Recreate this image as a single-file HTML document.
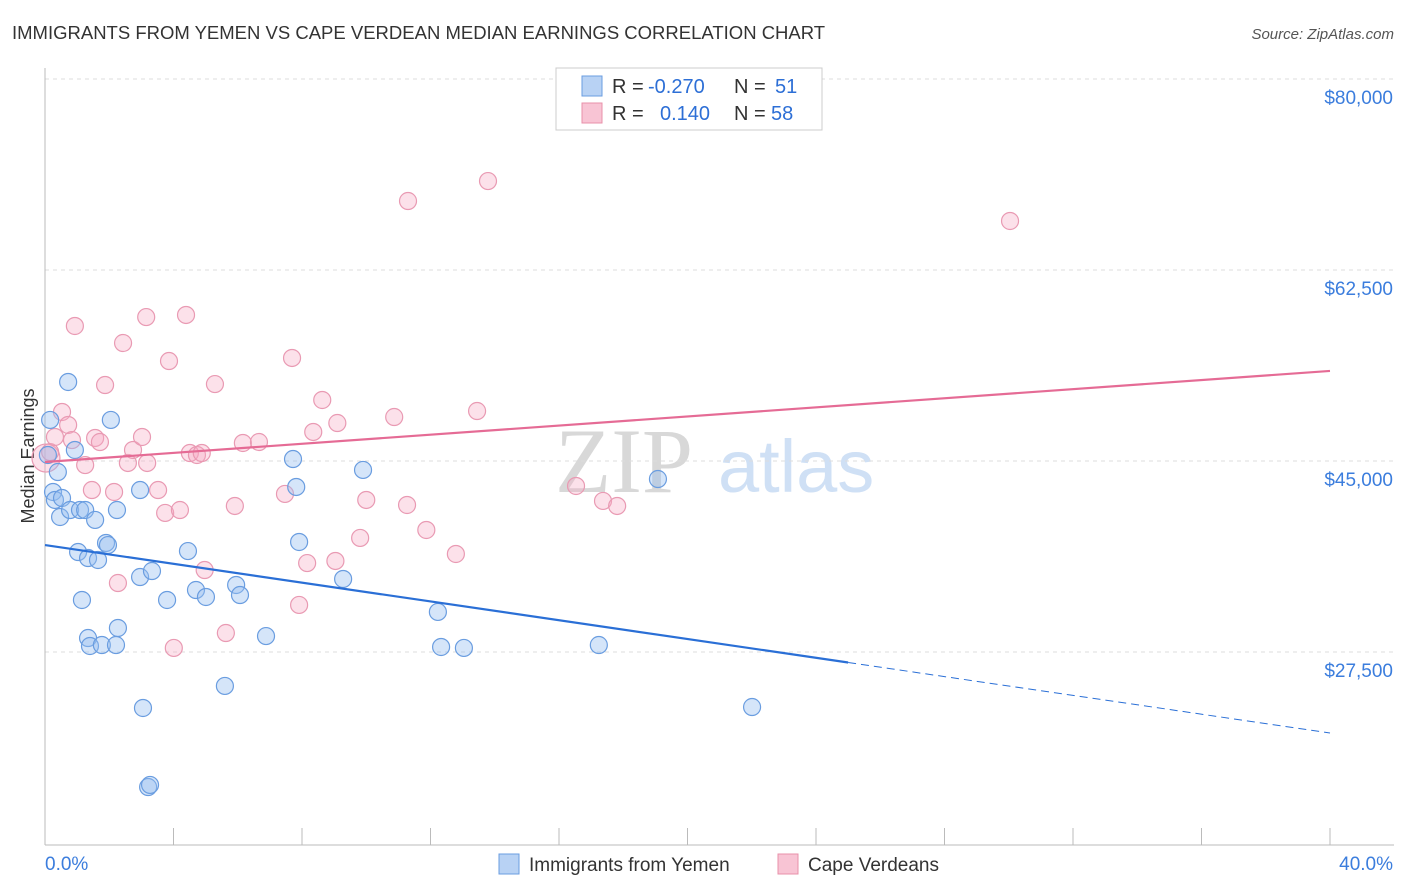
<!DOCTYPE html>
<html><head><meta charset="utf-8">
<style>
body{margin:0;background:#fff;font-family:"Liberation Sans",sans-serif;}
svg{display:block}
</style></head>
<body>
<svg id="chart" width="1406" height="892">
<text x="12" y="39" font-size="18.5" fill="#333">IMMIGRANTS FROM YEMEN VS CAPE VERDEAN MEDIAN EARNINGS CORRELATION CHART</text>
<text x="1394" y="39" font-size="15" fill="#555" font-style="italic" text-anchor="end">Source: ZipAtlas.com</text>
<g>
<text x="555" y="492" font-size="92" font-family="Liberation Serif,serif" fill="#d8d8d8">ZIP</text>
<text x="718" y="492" font-size="74" fill="#cfe0f5">atlas</text>
</g>
<g id="grid"></g>
<g id="axes"></g>
<text transform="translate(34,456) rotate(-90)" font-size="18" fill="#333" text-anchor="middle">Median Earnings</text>
<g id="pts"></g>
<g id="trends"></g>
<g font-size="20">
<rect x="556" y="68" width="266" height="62" fill="#fff" stroke="#ccc"/>
<rect x="582" y="76" width="20" height="20" fill="#b8d2f4" stroke="#6a9de0"/>
<rect x="582" y="103" width="20" height="20" fill="#f8c4d4" stroke="#e890aa"/>
<text x="612" y="93" fill="#333">R =</text>
<text x="648" y="93" fill="#2d6fd6">-0.270</text>
<text x="734" y="93" fill="#333">N =</text>
<text x="775" y="93" fill="#2d6fd6">51</text>
<text x="612" y="120" fill="#333">R =</text>
<text x="660" y="120" fill="#2d6fd6">0.140</text>
<text x="734" y="120" fill="#333">N =</text>
<text x="771" y="120" fill="#2d6fd6">58</text>
</g>
<g>
<rect x="499" y="854" width="20" height="20" fill="#b8d2f4" stroke="#6a9de0"/>
<text x="529" y="871" font-size="19" fill="#333">Immigrants from Yemen</text>
<rect x="778" y="854" width="20" height="20" fill="#f8c4d4" stroke="#e890aa"/>
<text x="808" y="871" font-size="19" fill="#333">Cape Verdeans</text>
</g>
</svg>
<script>
const yTicks=[27500,45000,62500,80000];
const yTickLabels=["$27,500","$45,000","$62,500","$80,000"];
const blueX=[0.09,0.16,0.25,0.31,0.40,0.53,0.72,0.47,0.78,0.93,1.03,1.09,1.15,1.25,1.34,1.34,1.40,1.56,1.65,1.77,1.90,1.96,2.05,2.21,2.27,2.24,2.96,2.96,3.05,3.21,3.27,3.33,3.80,4.45,4.70,5.01,5.60,5.95,6.07,6.88,7.72,7.82,7.91,9.28,9.90,12.23,12.33,13.04,17.24,19.08,22.01];
const blueY=[45550,48760,42160,41430,43990,41610,52240,39870,40510,46010,36660,40510,32265,40510,36110,28780,28050,39600,35930,28140,37490,37300,48760,28140,29700,40510,42340,34370,22370,15130,15320,34920,32265,36750,33180,32540,24390,33640,32720,28960,45180,42620,37580,34190,44180,31170,27960,27870,28140,43350,22460];
const pinkX=[0.03,0.16,0.31,0.53,0.72,0.84,0.93,1.25,1.46,1.56,1.71,1.87,2.15,2.27,2.43,2.58,2.74,3.02,3.15,3.18,3.52,3.74,3.86,4.01,4.20,4.39,4.51,4.73,4.88,4.97,5.29,5.63,5.91,6.16,6.66,7.47,7.69,7.91,8.16,8.35,8.63,9.04,9.10,9.81,10.00,10.87,11.27,11.30,11.87,12.79,13.45,13.79,16.53,17.37,17.81,30.04];
const pinkY=[45270,45820,47200,49490,48300,46920,57370,44630,42340,47110,46740,51960,42160,33820,55810,44820,46010,47200,58190,44820,42340,40240,54160,27870,40510,58380,45730,45550,45730,35010,52050,29240,40880,46650,46740,41980,54440,31810,35650,47660,50590,35840,48480,37950,41430,49030,40970,68820,38680,36480,49580,70650,42710,41340,40880,66990];
const blueTrend=[37300,20080];
const pinkTrend=[44910,53250];
const xs=p=>45+p*1285/40;
const ys=v=>461-(v-45000)*191/17500;
const NS="http://www.w3.org/2000/svg";
function mk(tag,attrs,parent){const e=document.createElementNS(NS,tag);for(const k in attrs)e.setAttribute(k,attrs[k]);parent.appendChild(e);return e;}
const grid=document.getElementById('grid'),axes=document.getElementById('axes'),pts=document.getElementById('pts'),tr=document.getElementById('trends');
yTicks.forEach((t,i)=>{
 const l=mk('line',{x1:45,x2:1394,y1:ys(t),y2:ys(t),stroke:'#ddd','stroke-dasharray':'4,4'},grid);
 
 
 const tx=mk('text',{x:1393,y:ys(t)+25,'font-size':19,fill:'#3b7ddd','text-anchor':'end'},axes);
 tx.textContent=yTickLabels[i];
 
 
});
mk('line',{x1:45,x2:45,y1:68,y2:845,stroke:'#bbb'},axes);
mk('line',{x1:45,x2:1394,y1:845,y2:845,stroke:'#bbb'},axes);
for(let p=0;p<=40;p+=4){const t=mk('line',{x1:xs(p),x2:xs(p),y1:828,y2:845,stroke:'#bbb'},axes);
 
 }
const x0=mk('text',{x:45,y:870,'font-size':19,fill:'#3b7ddd'},axes);x0.textContent='0.0%';


const x1=mk('text',{x:1393,y:870,'font-size':19,fill:'#3b7ddd','text-anchor':'end'},axes);x1.textContent='40.0%';


pinkX.forEach((x,i)=>{const c=mk('circle',{cx:xs(x),cy:ys(pinkY[i]),r:i==0?14:8.5,fill:'rgba(245,170,195,0.35)',stroke:'#e99ab3','stroke-width':1.2},pts);
 
 });
blueX.forEach((x,i)=>{const c=mk('circle',{cx:xs(x),cy:ys(blueY[i]),r:8.5,fill:'rgba(150,190,240,0.4)',stroke:'#6a9de0','stroke-width':1.2},pts);
 
 });
const bAt=p=>blueTrend[0]+(blueTrend[1]-blueTrend[0])*p/40;
const b1=mk('line',{x1:xs(0),y1:ys(bAt(0)),x2:xs(25),y2:ys(bAt(25)),stroke:'#2a6fd6','stroke-width':2.2},tr);


const b2=mk('line',{x1:xs(25),y1:ys(bAt(25)),x2:xs(40),y2:ys(bAt(40)),stroke:'#2a6fd6','stroke-width':1,'stroke-dasharray':'8,5'},tr);


const p1=mk('line',{x1:xs(0),y1:ys(pinkTrend[0]),x2:xs(40),y2:ys(pinkTrend[1]),stroke:'#e56b95','stroke-width':2.2},tr);


</script>
</body></html>
